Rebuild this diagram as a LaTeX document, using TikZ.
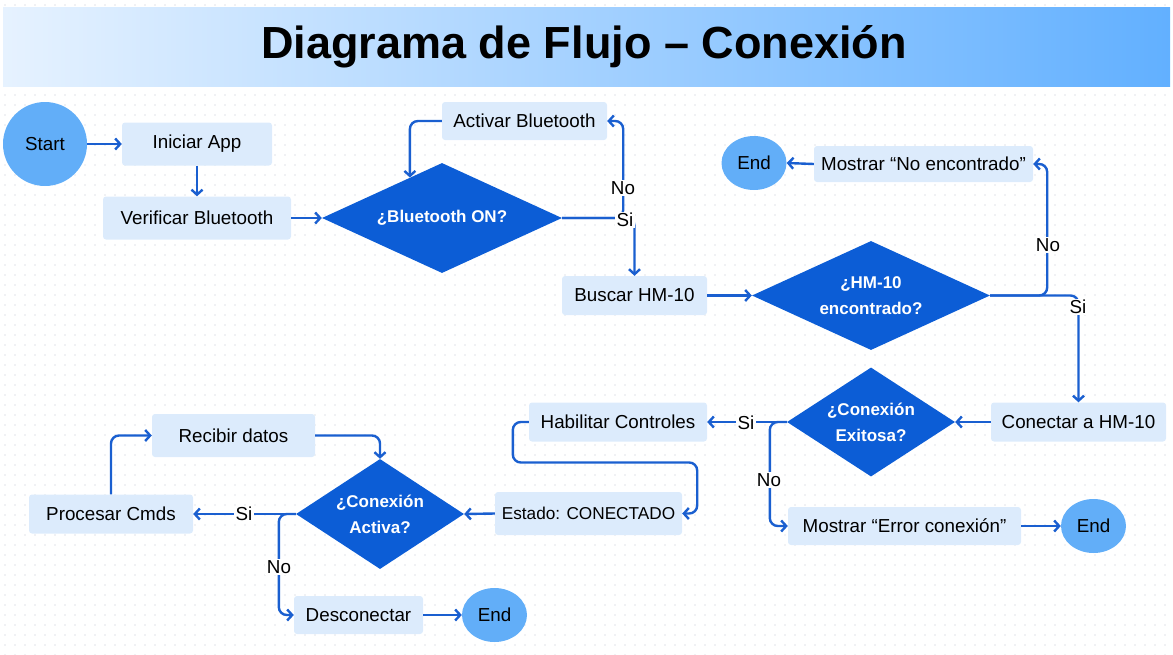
\documentclass[tikz,border=0pt]{standalone}
\usepackage{fontspec}
\setmainfont{Liberation Sans}
\usetikzlibrary{shapes.geometric,arrows.meta,calc}
\definecolor{boxfill}{HTML}{DCEBFC}
\definecolor{decfill}{HTML}{0C5DD6}
\definecolor{termfill}{HTML}{62AEF8}
\definecolor{linecol}{HTML}{1A5FD0}
\definecolor{dotcol}{HTML}{E0E3E8}
\definecolor{titleL}{HTML}{E6F2FF}
\definecolor{titleR}{HTML}{62B0FF}
\begin{document}
\begin{tikzpicture}[x=1pt,y=-1pt,
  txt/.style={font=\fontsize{18.8}{22}\selectfont, text=black},
  proc/.style={txt, fill=boxfill, rounded corners=3pt, inner sep=0pt},
  dec/.style={diamond, fill=decfill, text=white, inner sep=0pt, align=center,
    font=\fontsize{17}{26}\selectfont\bfseries},
  term/.style={txt, fill=termfill, inner sep=0pt},
  conn/.style={draw=linecol, line width=2.4pt, rounded corners=8pt,
    -{Straight Barb[length=5pt,width=11pt]}},
  lab/.style={txt, fill=white, inner sep=1.5pt}
]
\useasboundingbox (0,0) rectangle (1173,654);
% dotted background
\foreach \yy in {5,15,...,655}
  \draw[dotcol, line width=1.6pt, line cap=round, dash pattern=on 0pt off 10pt] (5,\yy) -- (1173,\yy);
% title bar
\shade[left color=titleL, right color=titleR] (3,7) rectangle (1170,86);
\node[font=\fontsize{45}{50}\selectfont\bfseries, text=black] (title) at (584,47) {Diagrama de Flujo – Conexión};

% nodes
\node[term, circle, minimum size=84pt] (start) at (45,144) {Start};
\node[proc, minimum width=150pt, minimum height=43pt] (iniciar) at (197,144) {Iniciar App};
\node[proc, minimum width=188pt, minimum height=43pt] (verif) at (197,218) {Verificar Bluetooth};
\node[dec, aspect=2.18, minimum width=240pt, minimum height=110pt] (d1) at (442,218) {¿Bluetooth ON?};
\node[proc, minimum width=165pt, minimum height=38pt] (act) at (524.5,121) {Activar Bluetooth};
\node[proc, minimum width=145pt, minimum height=39pt] (busc) at (634.5,295.5) {Buscar HM-10};
\node[dec, aspect=2.18, minimum width=238pt, minimum height=109pt] (d2) at (871,295.5) {¿HM-10\\encontrado?};
\node[proc, minimum width=219pt, minimum height=36pt] (noenc) at (923.5,164) {Mostrar “No encontrado”};
\node[term, ellipse, minimum width=65pt, minimum height=54pt] (end1) at (754,163) {End};
\node[proc, minimum width=175pt, minimum height=39pt] (conec) at (1078.5,422) {Conectar a HM-10};
\node[dec, aspect=1.54, minimum width=168pt, minimum height=109pt] (d3) at (871,422) {¿Conexión\\Exitosa?};
\node[proc, minimum width=178pt, minimum height=39pt] (habil) at (618,422) {Habilitar Controles};
\node[proc, minimum width=187pt, minimum height=43pt, font=\fontsize{17.2}{22}\selectfont] (estado) at (588.5,513.5) {Estado: CONECTADO};
\node[proc, minimum width=233pt, minimum height=38pt] (error) at (904.5,526) {Mostrar “Error conexión”};
\node[term, ellipse, minimum width=65pt, minimum height=54pt] (end2) at (1093.5,526) {End};
\node[dec, aspect=1.53, minimum width=168pt, minimum height=110pt] (d4) at (380,514) {¿Conexión\\Activa?};
\node[proc, minimum width=163pt, minimum height=43pt] (recib) at (233.5,435.5) {Recibir datos};
\node[proc, minimum width=164pt, minimum height=39pt] (procs) at (111,514) {Procesar Cmds};
\node[proc, minimum width=129pt, minimum height=38pt] (desc) at (358.5,615) {Desconectar};
\node[term, ellipse, minimum width=65pt, minimum height=54pt] (end3) at (494.5,615) {End};

% connectors
\draw[conn] (start) -- (iniciar);
\draw[conn] (iniciar) -- (verif);
\draw[conn] (verif) -- (d1);
\draw[conn] (d1.east) -- ++(61,0) |- (act.east);
\draw[conn] (d1.east) -| (busc.north);
\draw[conn] (act.west) -| ($(d1.north)!0.267!(d1.west)$);
\draw[conn] (busc.east) -- (d2.west);
\draw[conn] (d2.east) -- ++(57,0) |- (noenc.east);
\draw[conn] (d2.east) -| (conec.north);
\draw[conn] (noenc.west) -- (end1.east);
\draw[conn] (conec.west) -- (d3.east);
\draw[conn] (d3.west) -- (habil.east);
\draw[conn] (d3.west) -- ++(-17,0) |- (error.west);
\draw[conn] (error.east) -- (end2.west);
\draw[conn] (habil.west) -- ++(-16,0) |- ($(estado.east)+(15,-51)$) |- (estado.east);
\draw[conn] (estado.west) -- (d4.east);
\draw[conn] (d4.west) -- (procs.east);
\draw[conn] (d4.west) -- ++(-17,0) |- (desc.west);
\draw[conn] (desc.east) -- (end3.west);
\draw[conn] (procs.north) |- (recib.west);
\draw[conn] (recib.east) -| (d4.north);

% labels
\node[lab] (l1) at (623,188) {No};
\node[lab] (l2) at (625,220) {Si};
\node[lab] (l3) at (1048,245) {No};
\node[lab] (l4) at (1078,307) {Si};
\node[lab] (l5) at (746,423) {Si};
\node[lab] (l6) at (769,480) {No};
\node[lab] (l7) at (244,514) {Si};
\node[lab] (l8) at (279,567) {No};
\end{tikzpicture}
\end{document}
